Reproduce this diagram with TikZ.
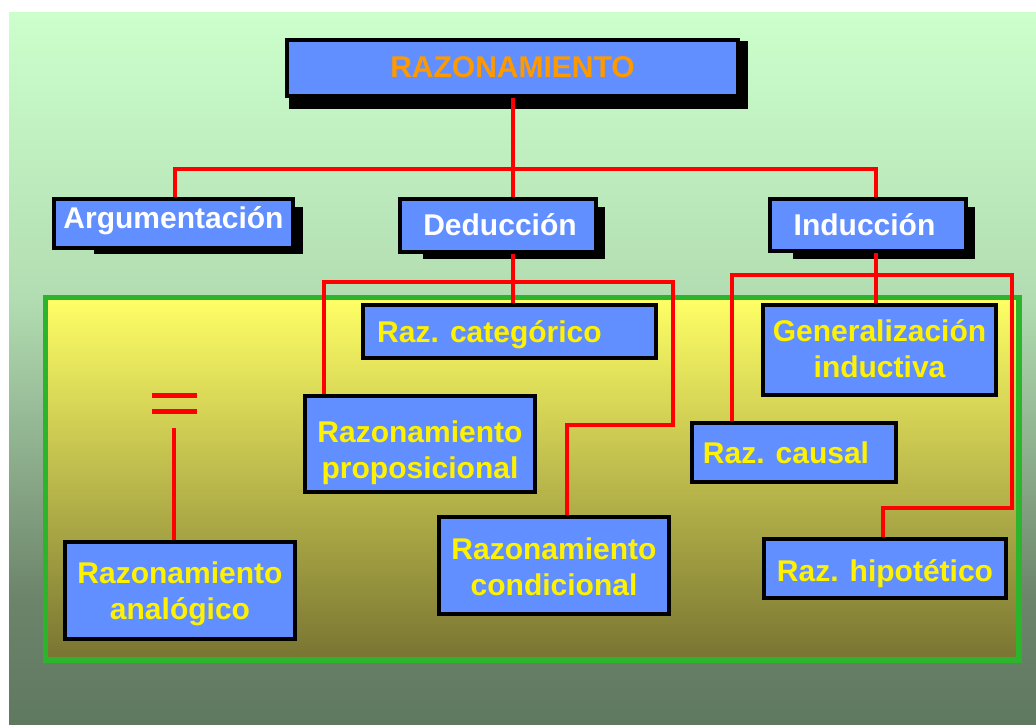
\documentclass[tikz,border=0pt]{standalone}
\usepackage{fontspec}
\setmainfont{Liberation Sans}
\usetikzlibrary{calc}
\definecolor{boxblue}{RGB}{97,143,255}
\definecolor{framegreen}{RGB}{44,180,44}
\definecolor{linkred}{RGB}{255,0,0}
\definecolor{titleorange}{RGB}{255,153,0}
\definecolor{bgtop}{RGB}{204,255,204}
\definecolor{bgmid}{RGB}{178,221,178}
\definecolor{bglow}{RGB}{108,132,106}
\definecolor{bgbot}{RGB}{95,120,96}
\definecolor{yeltop}{RGB}{255,255,102}
\definecolor{yelbot}{RGB}{120,116,50}
\pgfdeclareverticalshading{bgshade}{100bp}{color(0bp)=(bgbot); color(25bp)=(bgbot); color(33.8bp)=(bglow); color(55bp)=(bgmid); color(75bp)=(bgtop); color(100bp)=(bgtop)}
\pgfdeclarelayer{back}
\pgfdeclarelayer{links}
\pgfsetlayers{back,links,main}
\tikzset{
  box/.style={draw=black, line width=4pt, fill=boxblue, inner sep=0pt,
    font=\fontsize{30}{36}\selectfont\bfseries, text=yellow},
  one/.style={text height=21.5pt, text depth=0pt},
  two/.style={align=center, text depth=0pt},
  toplevel/.style={text=white},
  conn/.style={draw=linkred, line width=4pt},
  shadowbox/.style={fill=black},
}
\begin{document}
\begin{tikzpicture}[x=1pt,y=-1pt]
\useasboundingbox (0,0) rectangle (1036,725);
\begin{pgfonlayer}{back}
  \fill[white] (0,0) rectangle (1036,725);
  \shade[shading=bgshade] (9,13) rectangle (1036,725);
  \draw[framegreen, line width=5.5pt, top color=yeltop, bottom color=yelbot] (45.5,297.5) rectangle (1019,660);
  \fill[shadowbox] (289,41) rectangle (748,109);
  \fill[shadowbox] (94,207) rectangle (303,254);
  \fill[shadowbox] (423,207) rectangle (605,259);
  \fill[shadowbox] (793,207) rectangle (975,259);
\end{pgfonlayer}

\node[box, one, text=titleorange, text depth=2pt, minimum width=451pt, minimum height=56pt] (raz) at (512.5,68) {RAZONAMIENTO};
\node[box, one, toplevel, text depth=12pt, minimum width=239pt, minimum height=49pt] (arg) at (173.5,223.5) {Argumentación};
\node[box, one, toplevel, text depth=2pt, minimum width=196pt, minimum height=53pt] (ded) at (498,225.5) {\hspace*{4pt}Deducción};
\node[box, one, toplevel, minimum width=196pt, minimum height=52pt] (ind) at (868,225) {\hspace*{-7pt}Inducción};

\node[box, one, minimum width=293pt, minimum height=53pt] (cat) at (509.5,331.5) {\hspace*{-40pt}Raz. categórico};
\node[box, two, text height=68.9pt, minimum width=230pt, minimum height=96pt] (prop) at (420,444) {Razonamiento\\proposicional};
\node[box, two, text height=58.5pt, minimum width=230pt, minimum height=97pt] (ana) at (180,590.5) {Razonamiento\\analógico};
\node[box, two, text height=60.5pt, minimum width=230pt, minimum height=97pt] (cond) at (554,565.5) {Razonamiento\\condicional};
\node[box, two, text height=55.5pt, minimum width=233pt, minimum height=90pt] (gen) at (879.5,350) {Generalización\\inductiva};
\node[box, one, minimum width=204pt, minimum height=59pt] (cau) at (794,452.5) {\hspace*{-16pt}Raz. causal};
\node[box, one, text height=26.5pt, minimum width=242pt, minimum height=59pt] (hip) at (885,568.5) {Raz. hipotético};

\coordinate (a0) at (513,169);
\coordinate (a1) at (175,169);
\coordinate (a2) at (876,169);
\coordinate (d0) at (513,282);
\coordinate (d1) at (324,282);
\coordinate (d2) at (673,282);
\coordinate (d3) at (673,425);
\coordinate (d4) at (567,425);
\coordinate (i0) at (876,275);
\coordinate (i1) at (732,275);
\coordinate (i2) at (1012,275);
\coordinate (i3) at (1012,508);
\coordinate (i4) at (883,508);
\coordinate (e0) at (174,428);

\begin{pgfonlayer}{links}
  \draw[conn] (raz.south -| a0) -- (a0);
  \draw[conn] (arg.north -| a1) -- (a1) -- (a2) -- (ind.north -| a2);
  \draw[conn] (a0) -- (ded.north -| a0);
  \draw[conn] (ded.south -| d0) -- (cat.north -| d0);
  \draw[conn] (prop.north -| d1) -- (d1) -- (d2) -- (d3) -- (d4) -- (cond.north -| d4);
  \draw[conn] (ind.south -| i0) -- (gen.north -| i0);
  \draw[conn] (cau.north -| i1) -- (i1) -- (i2) -- (i3) -- (i4) -- (hip.north -| i4);
  \draw[conn] (e0) -- (ana.north -| e0);
  \draw[conn, line width=5pt] (152,395) -- (197,395);
  \draw[conn, line width=5pt] (152,411) -- (197,411);
\end{pgfonlayer}
\end{tikzpicture}
\end{document}
